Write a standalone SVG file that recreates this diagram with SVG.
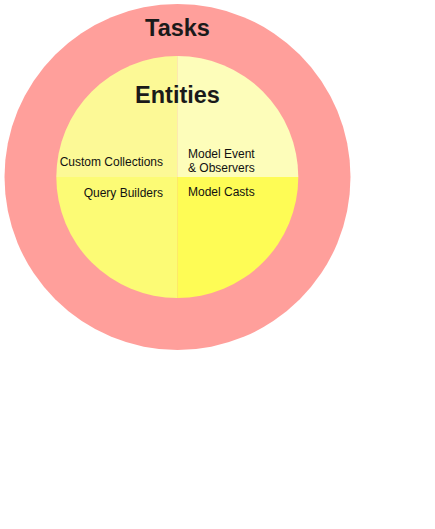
<svg xmlns="http://www.w3.org/2000/svg" width="435" height="529" viewBox="0 0 435 529">
<style>
.lbl{font-family:"Liberation Sans",Arial,sans-serif;font-size:12px;fill:#111}
.ttl{font-family:"Liberation Sans",Arial,sans-serif;font-size:23.5px;font-weight:bold;fill:#1a1a1a;text-anchor:middle}
</style>
<rect width="435" height="529" fill="#ffffff"/>
<g id="tasks">
<circle cx="177.5" cy="177" r="173" fill="#FF9F9B"/>
<text class="ttl" x="177.5" y="36">Tasks</text>
</g>
<g id="entities">
<path id="q-tl" d="M177.3,177 L56.3,177 A121,121 0 0 1 177.3,56 Z" fill="#FCF996"/>
<path id="q-tr" d="M177.3,177 L177.3,56 A121,121 0 0 1 298.3,177 Z" fill="#FDFDBA"/>
<path id="q-bl" d="M177.3,177 L177.3,298 A121,121 0 0 1 56.3,177 Z" fill="#FCFB75"/>
<path id="q-br" d="M177.3,177 L298.3,177 A121,121 0 0 1 177.3,298 Z" fill="#FEFC55"/>
<text class="ttl" x="177.5" y="103">Entities</text>
</g>
<g id="custom-collections"><text class="lbl" x="163" y="166" text-anchor="end">Custom Collections</text></g>
<g id="query-builders"><text class="lbl" x="163" y="197" text-anchor="end">Query Builders</text></g>
<g id="model-event"><text class="lbl" x="188" y="158">Model Event</text><text class="lbl" x="188" y="172">&amp; Observers</text></g>
<g id="model-casts"><text class="lbl" x="188" y="196">Model Casts</text></g>
<g id="connectors"/>
</svg>
